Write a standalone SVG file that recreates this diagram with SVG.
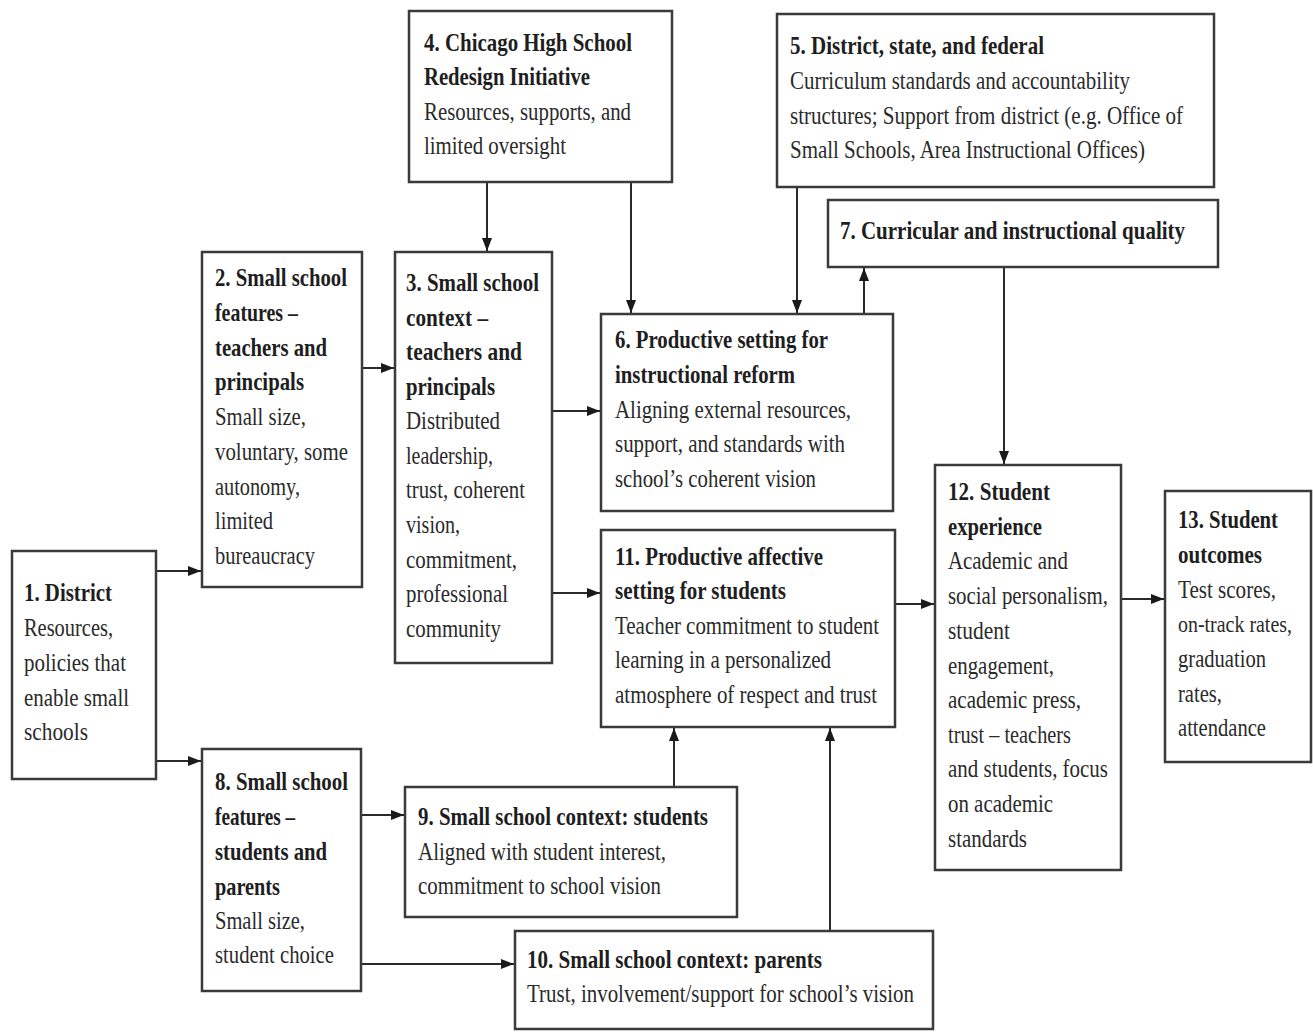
<svg xmlns="http://www.w3.org/2000/svg" width="1313" height="1032" viewBox="0 0 1313 1032">
<style>
.box{fill:#fff;stroke:#3a3a3a;stroke-width:2.5}
text{font-family:"Liberation Serif","Times New Roman",serif;font-size:25px;fill:#2a2a2a}
.b{font-weight:bold;fill:#1e1e1e}
.c{stroke:#2a2a2a;stroke-width:2;fill:none;marker-end:url(#ah)}
</style>
<defs>
<marker id="ah" viewBox="0 0 10 10" refX="10" refY="5" markerWidth="13" markerHeight="10" markerUnits="userSpaceOnUse" orient="auto" preserveAspectRatio="none">
<path d="M0,0 L10,5 L0,10 z" fill="#1a1a1a"/>
</marker>
</defs>
<rect width="1313" height="1032" fill="#fff"/>

<g id="connectors">
<line class="c" x1="156" y1="571" x2="201" y2="571"/>
<line class="c" x1="156" y1="761" x2="201" y2="761"/>
<line class="c" x1="362" y1="368" x2="394" y2="368"/>
<line class="c" x1="552" y1="411" x2="600" y2="411"/>
<line class="c" x1="552" y1="593" x2="600" y2="593"/>
<line class="c" x1="487" y1="182" x2="487" y2="251"/>
<line class="c" x1="631" y1="182" x2="631" y2="313"/>
<line class="c" x1="797" y1="187" x2="797" y2="313"/>
<line class="c" x1="864" y1="314" x2="864" y2="268"/>
<line class="c" x1="1004" y1="267" x2="1004" y2="464"/>
<line class="c" x1="895" y1="604" x2="934" y2="604"/>
<line class="c" x1="1121" y1="599" x2="1164" y2="599"/>
<line class="c" x1="361" y1="815" x2="404" y2="815"/>
<line class="c" x1="361" y1="964" x2="514" y2="964"/>
<line class="c" x1="674" y1="787" x2="674" y2="728"/>
<line class="c" x1="830" y1="931" x2="830" y2="728"/>
</g>

<g id="n1">
<rect class="box" x="12" y="551" width="144" height="228"/>
<text class="b" x="24" y="601" textLength="88" lengthAdjust="spacingAndGlyphs">1. District</text>
<text x="24" y="636" textLength="89" lengthAdjust="spacingAndGlyphs">Resources,</text>
<text x="24" y="671" textLength="102" lengthAdjust="spacingAndGlyphs">policies that</text>
<text x="24" y="706" textLength="105" lengthAdjust="spacingAndGlyphs">enable small</text>
<text x="24" y="740" textLength="64" lengthAdjust="spacingAndGlyphs">schools</text>
</g>

<g id="n2">
<rect class="box" x="202" y="252" width="160" height="335"/>
<text class="b" x="215" y="286" textLength="132" lengthAdjust="spacingAndGlyphs">2. Small school</text>
<text class="b" x="215" y="321" textLength="83" lengthAdjust="spacingAndGlyphs">features –</text>
<text class="b" x="215" y="356" textLength="112" lengthAdjust="spacingAndGlyphs">teachers and</text>
<text class="b" x="215" y="390" textLength="89" lengthAdjust="spacingAndGlyphs">principals</text>
<text x="215" y="425" textLength="91" lengthAdjust="spacingAndGlyphs">Small size,</text>
<text x="215" y="460" textLength="133" lengthAdjust="spacingAndGlyphs">voluntary, some</text>
<text x="215" y="495" textLength="85" lengthAdjust="spacingAndGlyphs">autonomy,</text>
<text x="215" y="529" textLength="58" lengthAdjust="spacingAndGlyphs">limited</text>
<text x="215" y="564" textLength="100" lengthAdjust="spacingAndGlyphs">bureaucracy</text>
</g>

<g id="n3">
<rect class="box" x="395" y="252" width="157" height="411"/>
<text class="b" x="406" y="291" textLength="133" lengthAdjust="spacingAndGlyphs">3. Small school</text>
<text class="b" x="406" y="326" textLength="82" lengthAdjust="spacingAndGlyphs">context –</text>
<text class="b" x="406" y="360" textLength="116" lengthAdjust="spacingAndGlyphs">teachers and</text>
<text class="b" x="406" y="395" textLength="89" lengthAdjust="spacingAndGlyphs">principals</text>
<text x="406" y="429" textLength="94" lengthAdjust="spacingAndGlyphs">Distributed</text>
<text x="406" y="464" textLength="87" lengthAdjust="spacingAndGlyphs">leadership,</text>
<text x="406" y="498" textLength="119" lengthAdjust="spacingAndGlyphs">trust, coherent</text>
<text x="406" y="533" textLength="54" lengthAdjust="spacingAndGlyphs">vision,</text>
<text x="406" y="568" textLength="111" lengthAdjust="spacingAndGlyphs">commitment,</text>
<text x="406" y="602" textLength="102" lengthAdjust="spacingAndGlyphs">professional</text>
<text x="406" y="637" textLength="95" lengthAdjust="spacingAndGlyphs">community</text>
</g>

<g id="n4">
<rect class="box" x="409" y="11" width="263" height="171"/>
<text class="b" x="424" y="51" textLength="208" lengthAdjust="spacingAndGlyphs">4. Chicago High School</text>
<text class="b" x="424" y="85" textLength="166" lengthAdjust="spacingAndGlyphs">Redesign Initiative</text>
<text x="424" y="120" textLength="207" lengthAdjust="spacingAndGlyphs">Resources, supports, and</text>
<text x="424" y="154" textLength="142" lengthAdjust="spacingAndGlyphs">limited oversight</text>
</g>

<g id="n5">
<rect class="box" x="777" y="14" width="437" height="173"/>
<text class="b" x="790" y="54" textLength="254" lengthAdjust="spacingAndGlyphs">5. District, state, and federal</text>
<text x="790" y="89" textLength="340" lengthAdjust="spacingAndGlyphs">Curriculum standards and accountability</text>
<text x="790" y="124" textLength="393" lengthAdjust="spacingAndGlyphs">structures; Support from district (e.g. Office of</text>
<text x="790" y="158" textLength="355" lengthAdjust="spacingAndGlyphs">Small Schools, Area Instructional Offices)</text>
</g>

<g id="n7">
<rect class="box" x="828" y="200" width="390" height="67"/>
<text class="b" x="840" y="239" textLength="345" lengthAdjust="spacingAndGlyphs">7. Curricular and instructional quality</text>
</g>

<g id="n6">
<rect class="box" x="601" y="314" width="292" height="197"/>
<text class="b" x="615" y="348" textLength="213" lengthAdjust="spacingAndGlyphs">6. Productive setting for</text>
<text class="b" x="615" y="383" textLength="180" lengthAdjust="spacingAndGlyphs">instructional reform</text>
<text x="615" y="418" textLength="236" lengthAdjust="spacingAndGlyphs">Aligning external resources,</text>
<text x="615" y="452" textLength="230" lengthAdjust="spacingAndGlyphs">support, and standards with</text>
<text x="615" y="487" textLength="201" lengthAdjust="spacingAndGlyphs">school’s coherent vision</text>
</g>

<g id="n11">
<rect class="box" x="601" y="530" width="294" height="197"/>
<text class="b" x="615" y="565" textLength="208" lengthAdjust="spacingAndGlyphs">11. Productive affective</text>
<text class="b" x="615" y="599" textLength="171" lengthAdjust="spacingAndGlyphs">setting for students</text>
<text x="615" y="634" textLength="264" lengthAdjust="spacingAndGlyphs">Teacher commitment to student</text>
<text x="615" y="668" textLength="216" lengthAdjust="spacingAndGlyphs">learning in a personalized</text>
<text x="615" y="703" textLength="262" lengthAdjust="spacingAndGlyphs">atmosphere of respect and trust</text>
</g>

<g id="n12">
<rect class="box" x="935" y="465" width="186" height="405"/>
<text class="b" x="948" y="500" textLength="102" lengthAdjust="spacingAndGlyphs">12. Student</text>
<text class="b" x="948" y="535" textLength="94" lengthAdjust="spacingAndGlyphs">experience</text>
<text x="948" y="569" textLength="120" lengthAdjust="spacingAndGlyphs">Academic and</text>
<text x="948" y="604" textLength="160" lengthAdjust="spacingAndGlyphs">social personalism,</text>
<text x="948" y="639" textLength="62" lengthAdjust="spacingAndGlyphs">student</text>
<text x="948" y="674" textLength="106" lengthAdjust="spacingAndGlyphs">engagement,</text>
<text x="948" y="708" textLength="133" lengthAdjust="spacingAndGlyphs">academic press,</text>
<text x="948" y="743" textLength="123" lengthAdjust="spacingAndGlyphs">trust – teachers</text>
<text x="948" y="777" textLength="160" lengthAdjust="spacingAndGlyphs">and students, focus</text>
<text x="948" y="812" textLength="105" lengthAdjust="spacingAndGlyphs">on academic</text>
<text x="948" y="847" textLength="79" lengthAdjust="spacingAndGlyphs">standards</text>
</g>

<g id="n13">
<rect class="box" x="1165" y="491" width="146" height="271"/>
<text class="b" x="1178" y="528" textLength="100" lengthAdjust="spacingAndGlyphs">13. Student</text>
<text class="b" x="1178" y="563" textLength="84" lengthAdjust="spacingAndGlyphs">outcomes</text>
<text x="1178" y="598" textLength="98" lengthAdjust="spacingAndGlyphs">Test scores,</text>
<text x="1178" y="632" style="font-size:23px" textLength="114" lengthAdjust="spacingAndGlyphs">on-track rates,</text>
<text x="1178" y="667" textLength="88" lengthAdjust="spacingAndGlyphs">graduation</text>
<text x="1178" y="702" textLength="44" lengthAdjust="spacingAndGlyphs">rates,</text>
<text x="1178" y="736" textLength="88" lengthAdjust="spacingAndGlyphs">attendance</text>
</g>

<g id="n8">
<rect class="box" x="202" y="749" width="159" height="242"/>
<text class="b" x="215" y="790" textLength="133" lengthAdjust="spacingAndGlyphs">8. Small school</text>
<text class="b" x="215" y="825" textLength="80" lengthAdjust="spacingAndGlyphs">features –</text>
<text class="b" x="215" y="860" textLength="112" lengthAdjust="spacingAndGlyphs">students and</text>
<text class="b" x="215" y="895" textLength="65" lengthAdjust="spacingAndGlyphs">parents</text>
<text x="215" y="929" textLength="90" lengthAdjust="spacingAndGlyphs">Small size,</text>
<text x="215" y="963" textLength="119" lengthAdjust="spacingAndGlyphs">student choice</text>
</g>

<g id="n9">
<rect class="box" x="405" y="787" width="332" height="130"/>
<text class="b" x="418" y="825" textLength="290" lengthAdjust="spacingAndGlyphs">9. Small school context: students</text>
<text x="418" y="860" textLength="248" lengthAdjust="spacingAndGlyphs">Aligned with student interest,</text>
<text x="418" y="894" textLength="243" lengthAdjust="spacingAndGlyphs">commitment to school vision</text>
</g>

<g id="n10">
<rect class="box" x="515" y="931" width="418" height="98"/>
<text class="b" x="527" y="968" textLength="295" lengthAdjust="spacingAndGlyphs">10. Small school context: parents</text>
<text x="527" y="1002" textLength="387" lengthAdjust="spacingAndGlyphs">Trust, involvement/support for school’s vision</text>
</g>
</svg>
